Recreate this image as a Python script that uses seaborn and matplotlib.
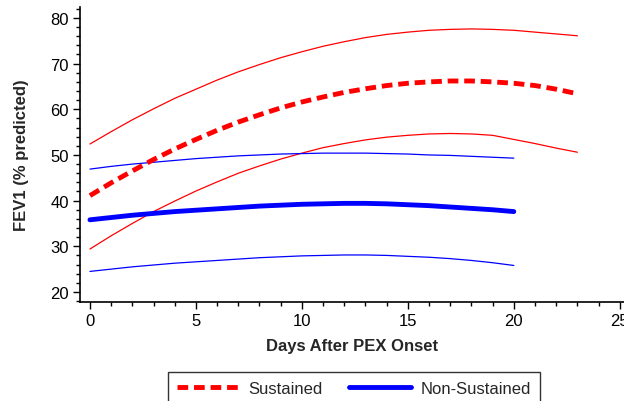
import matplotlib
matplotlib.use("Agg")
import matplotlib.pyplot as plt
import seaborn as sns
from matplotlib.ticker import MultipleLocator
from matplotlib.lines import Line2D

# ---- data ----
sus_x = list(range(0, 24))
sus_mean = [41.1, 43.9, 46.5, 49.0, 51.3, 53.4, 55.4, 57.2, 58.8, 60.3, 61.6, 62.7,
            63.7, 64.5, 65.2, 65.7, 66.0, 66.2, 66.2, 66.0, 65.7, 65.2, 64.4, 63.4]
sus_upper = [52.4, 55.1, 57.7, 60.1, 62.4, 64.4, 66.4, 68.2, 69.8, 71.3, 72.6, 73.8,
             74.8, 75.7, 76.4, 76.9, 77.3, 77.5, 77.6, 77.5, 77.3, 76.9, 76.5, 76.1]
sus_lower = [29.4, 32.3, 35.0, 37.6, 39.9, 42.1, 44.1, 46.0, 47.6, 49.1, 50.4, 51.6,
             52.5, 53.3, 53.9, 54.3, 54.6, 54.7, 54.6, 54.3, 53.4, 52.5, 51.5, 50.6]

non_x = list(range(0, 21))
non_mean = [35.8, 36.3, 36.8, 37.2, 37.6, 37.9, 38.2, 38.5, 38.8, 39.0, 39.2, 39.3,
            39.4, 39.4, 39.3, 39.1, 38.9, 38.6, 38.3, 38.0, 37.6]
non_upper = [46.9, 47.5, 48.0, 48.4, 48.8, 49.2, 49.5, 49.8, 50.0, 50.2, 50.3, 50.4,
             50.4, 50.4, 50.3, 50.2, 50.0, 49.9, 49.7, 49.5, 49.3]
non_lower = [24.5, 25.0, 25.5, 25.9, 26.3, 26.6, 26.9, 27.2, 27.5, 27.7, 27.9, 28.0,
             28.1, 28.1, 28.0, 27.8, 27.6, 27.3, 26.9, 26.4, 25.8]

legend_labels = ["Sustained", "Non-Sustained"]

RED = "#FF0000"
BLUE = "#0000FF"

sns.set_theme(style="ticks")
plt.rcParams["font.family"] = ["Liberation Sans", "DejaVu Sans"]

fig = plt.figure(figsize=(6.24, 4.02), dpi=100)
ax = fig.add_axes([80 / 624, 99 / 402, 544 / 624, 295 / 402])

sns.lineplot(x=sus_x, y=sus_upper, ax=ax, color=RED, lw=0.9)
sns.lineplot(x=sus_x, y=sus_lower, ax=ax, color=RED, lw=0.9)
sns.lineplot(x=non_x, y=non_upper, ax=ax, color=BLUE, lw=0.9)
sns.lineplot(x=non_x, y=non_lower, ax=ax, color=BLUE, lw=0.9)
sns.lineplot(x=non_x, y=non_mean, ax=ax, color=BLUE, lw=3.5)
sns.lineplot(x=sus_x, y=sus_mean, ax=ax, color=RED, lw=3.5,
             linestyle=(0, (2.2, 1.2)))

ax.set_xlim(-0.47, 25.2)
ax.set_ylim(17.8, 82.4)
ax.xaxis.set_major_locator(MultipleLocator(5))
ax.xaxis.set_minor_locator(MultipleLocator(1))
ax.set_yticks([20, 30, 40, 50, 60, 70, 80])
ax.yaxis.set_minor_locator(MultipleLocator(2))
ax.tick_params(axis="both", which="major", length=5, width=1, color="black",
               labelsize=12, labelcolor="black", pad=3)
ax.tick_params(axis="both", which="minor", length=3, width=1, color="black")
for s in ["top", "right"]:
    ax.spines[s].set_visible(False)
for s in ["left", "bottom"]:
    ax.spines[s].set_color("black")
    ax.spines[s].set_linewidth(1.2)

ax.set_xlabel("Days After PEX Onset", fontsize=12, fontweight="bold", labelpad=7)
ax.set_ylabel("FEV1 (% predicted)", fontsize=12, fontweight="bold", labelpad=15)

handles = [Line2D([], [], color=RED, lw=3.5, linestyle=(0, (2.2, 1.2))),
           Line2D([], [], color=BLUE, lw=3.5)]
leg = fig.legend(handles, legend_labels, loc="upper center",
                 bbox_to_anchor=(354 / 624, 1 - 373 / 402), borderaxespad=0,
                 ncol=2, frameon=True, fancybox=False, edgecolor="black",
                 fontsize=12, handlelength=3.7, handletextpad=0.6,
                 columnspacing=1.6, borderpad=0.55)
leg.get_frame().set_linewidth(1.0)

fig.savefig("out.png", dpi=100)
